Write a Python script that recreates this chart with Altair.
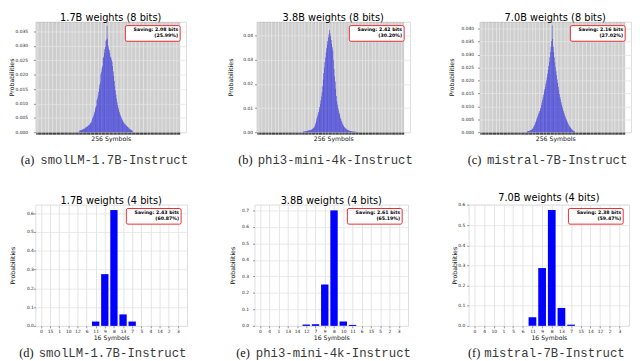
import altair as alt
import pandas as pd

FONT = "DejaVu Sans"

# ---------------- data ----------------
TITLES = ["1.7B weights (8 bits)", "3.8B weights (8 bits)", "7.0B weights (8 bits)",
          "1.7B weights (4 bits)", "3.8B weights (4 bits)", "7.0B weights (4 bits)"]
CAP_LETTERS = ["(a)", "(b)", "(c)", "(d)", "(e)", "(f)"]
CAP_MODELS = ["smolLM-1.7B-Instruct", "phi3-mini-4k-Instruct", "mistral-7B-Instruct",
              "smolLM-1.7B-Instruct", "phi3-mini-4k-Instruct", "mistral-7B-Instruct"]
SAVING_BITS = ["Saving: 2.08 bits", "Saving: 2.42 bits", "Saving: 2.16 bits",
               "Saving: 2.43 bits", "Saving: 2.61 bits", "Saving: 2.38 bits"]
SAVING_PCT = ["(25.99%)", "(30.20%)", "(27.02%)", "(60.87%)", "(65.19%)", "(59.47%)"]

# 8-bit histograms: probabilities of the non-empty symbols, starting at symbol index *_START
SMOL8_START = 77
SMOL8 = [0.0005, 0.0006, 0.0007, 0.0008, 0.0008, 0.0009, 0.0010, 0.0011, 0.0012,
         0.0013, 0.0014, 0.0016, 0.0017, 0.0019, 0.0020, 0.0022, 0.0024, 0.0025,
         0.0027, 0.0030, 0.0033, 0.0034, 0.0041, 0.0049, 0.0052, 0.0058, 0.0064,
         0.0071, 0.0080, 0.0088, 0.0092, 0.0112, 0.0118, 0.0128, 0.0140, 0.0152,
         0.0165, 0.0174, 0.0202, 0.0210, 0.0222, 0.0230, 0.0257, 0.0262, 0.0276,
         0.0288, 0.0296, 0.0318, 0.0322, 0.0370,
         0.0325, 0.0300, 0.0290, 0.0286, 0.0275, 0.0262, 0.0260, 0.0252, 0.0245,
         0.0230, 0.0212, 0.0195, 0.0178, 0.0160, 0.0145, 0.0130, 0.0116, 0.0104,
         0.0094, 0.0085, 0.0077, 0.0070, 0.0064, 0.0058, 0.0053, 0.0048, 0.0044,
         0.0040, 0.0036, 0.0033, 0.0030, 0.0028, 0.0026, 0.0024, 0.0022, 0.0020,
         0.0018, 0.0016, 0.0014, 0.0012, 0.0011, 0.0009, 0.0008, 0.0007, 0.0005]

PHI8_START = 80
PHI8 = [0.0002, 0.0003, 0.0003, 0.0004, 0.0004, 0.0005, 0.0005, 0.0006, 0.0006,
        0.0007, 0.0007, 0.0008, 0.0009, 0.0009, 0.0010, 0.0011, 0.0013, 0.0015,
        0.0017, 0.0020, 0.0024, 0.0030, 0.0038, 0.0048, 0.0058, 0.0066, 0.0074,
        0.0084, 0.0094, 0.0104, 0.0118, 0.0132, 0.0148, 0.0166, 0.0190, 0.0218,
        0.0245, 0.0268, 0.0290, 0.0310, 0.0330, 0.0348, 0.0362, 0.0378, 0.0392,
        0.0405, 0.0424,
        0.0410, 0.0398, 0.0382, 0.0366, 0.0352, 0.0338, 0.0300, 0.0262, 0.0232,
        0.0210, 0.0180, 0.0150, 0.0128, 0.0114, 0.0100, 0.0090, 0.0080, 0.0072,
        0.0060, 0.0054, 0.0046, 0.0040, 0.0034, 0.0029, 0.0025, 0.0022, 0.0019,
        0.0016, 0.0014, 0.0012, 0.0010, 0.0009, 0.0008, 0.0007, 0.0006, 0.0005,
        0.0005, 0.0004, 0.0004, 0.0003, 0.0003, 0.0003, 0.0002, 0.0002, 0.0002,
        0.0002, 0.0001, 0.0001, 0.0001, 0.0001]

MIS8_START = 83
MIS8 = [0.0003, 0.0004, 0.0005, 0.0005, 0.0006, 0.0007, 0.0008, 0.0009, 0.0010,
        0.0012, 0.0015, 0.0019, 0.0023, 0.0028, 0.0033, 0.0039, 0.0045, 0.0052,
        0.0058, 0.0064, 0.0070, 0.0076, 0.0082, 0.0088, 0.0095, 0.0104, 0.0114,
        0.0124, 0.0134, 0.0145, 0.0156, 0.0166, 0.0176, 0.0188, 0.0200, 0.0212,
        0.0226, 0.0240, 0.0256, 0.0272, 0.0290, 0.0310, 0.0330, 0.0352, 0.0412,
        0.0360, 0.0330, 0.0310, 0.0290, 0.0270, 0.0252, 0.0236, 0.0220, 0.0204,
        0.0190, 0.0176, 0.0162, 0.0148, 0.0136, 0.0126, 0.0116, 0.0106, 0.0098,
        0.0090, 0.0082, 0.0075, 0.0068, 0.0062, 0.0056, 0.0050, 0.0045, 0.0040,
        0.0035, 0.0030, 0.0026, 0.0022, 0.0019, 0.0016, 0.0013, 0.0011, 0.0009,
        0.0007, 0.0005, 0.0004, 0.0003]

# 4-bit histograms: symbol order on the x axis and probability of each
SMOL4_LABELS = ["0", "15", "1", "10", "12", "6", "11", "9", "8", "13", "7", "5", "4", "14", "2", "3"]
SMOL4 = [0, 0, 0, 0, 0, 0, 0.023, 0.275, 0.616, 0.061, 0.023, 0, 0, 0, 0, 0]
PHI4_LABELS = ["0", "4", "1", "13", "14", "12", "7", "9", "8", "10", "11", "6", "15", "5", "2", "3"]
PHI4 = [0, 0, 0, 0, 0, 0.008, 0.010, 0.250, 0.700, 0.026, 0.006, 0, 0, 0, 0, 0]
MIS4_LABELS = ["0", "4", "10", "1", "5", "6", "11", "9", "8", "13", "7", "15", "14", "12", "2", "3"]
MIS4 = [0, 0, 0, 0, 0, 0, 0.043, 0.287, 0.575, 0.089, 0.006, 0, 0, 0, 0, 0]

# y axis ticks per panel
Y8_TICKS = [[0, 0.005, 0.010, 0.015, 0.020, 0.025, 0.030, 0.035],
            [0, 0.01, 0.02, 0.03, 0.04],
            [0, 0.005, 0.010, 0.015, 0.020, 0.025, 0.030, 0.035, 0.040]]
Y8_FMT = [".3f", ".2f", ".3f"]
Y8_MAX = [0.0384, 0.0458, 0.0427]
Y4_TICKS = [[0, 0.1, 0.2, 0.3, 0.4, 0.5, 0.6],
            [0, 0.1, 0.2, 0.3, 0.4, 0.5, 0.6, 0.7],
            [0, 0.1, 0.2, 0.3, 0.4, 0.5, 0.6]]
Y4_MAX = [0.645, 0.735, 0.602]

# layout (pixels)
W = [154, 157, 155, 155, 157, 164]
H_TOP, H_BOT = 113, 124
TITLE_X = [-24, -26, -28, -23, -22.5, -14]
LABEL_PAD = [6, 2, 4, 0, 4, 2]
CAP_DX = [-15, -18.7, -12, -16.6, -18.7, -0.7]
MONO_DX = [5, 1.3, 7.7, 3.4, 1.3, 16]


def overlay(i, w, h):
    one = pd.DataFrame({"k": [0]})
    box = alt.Chart(one).mark_rect(fill="white", stroke="#e8141c", strokeWidth=0.9,
                                   cornerRadius=1.5).encode(
        x=alt.value(w - 62), x2=alt.value(w - 6), y=alt.value(4), y2=alt.value(20))
    t1 = alt.Chart(one).mark_text(font=FONT, fontSize=4.8, fontWeight="bold", align="right",
                                  baseline="middle", color="black").encode(
        x=alt.value(w - 8), y=alt.value(8.5), text=alt.value(SAVING_BITS[i]))
    t2 = alt.Chart(one).mark_text(font=FONT, fontSize=4.8, fontWeight="bold", align="right",
                                  baseline="middle", color="black").encode(
        x=alt.value(w - 8), y=alt.value(15), text=alt.value(SAVING_PCT[i]))
    c1 = alt.Chart(one).mark_text(font="Liberation Serif", fontSize=12.6, align="left",
                                  baseline="middle", color="#111").encode(
        x=alt.value(CAP_DX[i]), y=alt.value(h + 28), text=alt.value(CAP_LETTERS[i]))
    c2 = alt.Chart(one).mark_text(font="Liberation Mono", fontSize=12.6, align="left",
                                  baseline="middle", color="#3a3a3a").encode(
        x=alt.value(MONO_DX[i]), y=alt.value(h + 28), text=alt.value(CAP_MODELS[i]))
    return [box, t1, t2, c1, c2]


def y_axis(i, ticks, fmt):
    return alt.Axis(values=ticks, format=fmt, labelFont=FONT, labelFontSize=4.5, labelColor="#222",
                    labelPadding=LABEL_PAD[i], tickSize=2, tickWidth=0.5, tickColor="#222",
                    grid=True, gridColor="#e4e4e4", gridWidth=0.8, domain=False,
                    title="Probabilities", titleFont=FONT, titleFontSize=6.3, titleFontWeight="normal",
                    titleColor="#111", titleX=TITLE_X[i], titleBaseline="middle")


def title_params(i):
    return alt.TitleParams(TITLES[i], font=FONT, fontSize=10, fontWeight="normal",
                           color="#000", offset=-1)


def panel8(k, start, vals):
    i = k
    w, h = W[i], H_TOP
    df = pd.DataFrame({"sym": list(range(start, start + len(vals))), "p": vals})
    bars = alt.Chart(df).transform_calculate(
        x0="datum.sym - 0.4", x1="datum.sym + 0.4").mark_bar(
        color="#1e1edc", opacity=0.93).encode(
        x=alt.X("x0:Q", scale=alt.Scale(domain=[-1.5, 266.5], nice=False, zero=False),
                axis=alt.Axis(values=list(range(256)), labels=False, tickSize=2, tickWidth=0.5,
                              tickColor="#000", grid=True, gridColor="#7a7a7a", gridOpacity=0.42,
                              gridWidth=0.5, domain=False, title="256 Symbols", titleFont=FONT,
                              titleFontSize=6.3, titleFontWeight="normal", titleColor="#111",
                              titlePadding=1)),
        x2="x1:Q",
        y=alt.Y("p:Q", scale=alt.Scale(domain=[0, Y8_MAX[k]], nice=False),
                axis=y_axis(i, Y8_TICKS[k], Y8_FMT[k])),
        y2=alt.datum(0))
    return alt.layer(bars, *overlay(i, w, h)).properties(width=w, height=h, title=title_params(i))


def panel4(k, labels, vals):
    i = k + 3
    w, h = W[i], H_BOT
    df = pd.DataFrame({"pos": list(range(16)), "p": vals})
    label_expr = "[" + ",".join("'%s'" % s for s in labels) + "][datum.value]"
    bars = alt.Chart(df).transform_calculate(
        x0="datum.pos - 0.4", x1="datum.pos + 0.4").mark_bar(color="#0000ff").encode(
        x=alt.X("x0:Q", scale=alt.Scale(domain=[-0.6, 16.0], nice=False, zero=False),
                axis=alt.Axis(values=list(range(16)), labelExpr=label_expr, labelFont=FONT,
                              labelFontSize=4.5, labelColor="#222", labelPadding=1,
                              tickSize=2, tickWidth=0.5, tickColor="#222",
                              grid=True, gridColor="#dcdcdc", gridWidth=0.8, domain=False,
                              title="16 Symbols", titleFont=FONT, titleFontSize=6.3,
                              titleFontWeight="normal", titleColor="#111", titlePadding=1)),
        x2="x1:Q",
        y=alt.Y("p:Q", scale=alt.Scale(domain=[0, Y4_MAX[k]], nice=False),
                axis=y_axis(i, Y4_TICKS[k], ".1f")),
        y2=alt.datum(0))
    return alt.layer(bars, *overlay(i, w, h)).properties(width=w, height=h, title=title_params(i))


a = panel8(0, SMOL8_START, SMOL8)
b = panel8(1, PHI8_START, PHI8)
c = panel8(2, MIS8_START, MIS8)
d = panel4(0, SMOL4_LABELS, SMOL4)
e = panel4(1, PHI4_LABELS, PHI4)
f = panel4(2, MIS4_LABELS, MIS4)

row1 = alt.hconcat(alt.hconcat(a, b, spacing=39), c, spacing=35)
row2 = alt.hconcat(alt.hconcat(d, e, spacing=42), f, spacing=40)

chart = alt.vconcat(row1, row2, spacing=25).properties(padding=0).configure_view(
    stroke="#333", strokeWidth=0.8).configure(background="white")

chart.save("out.html", embed_options={"renderer": "svg", "actions": False})
